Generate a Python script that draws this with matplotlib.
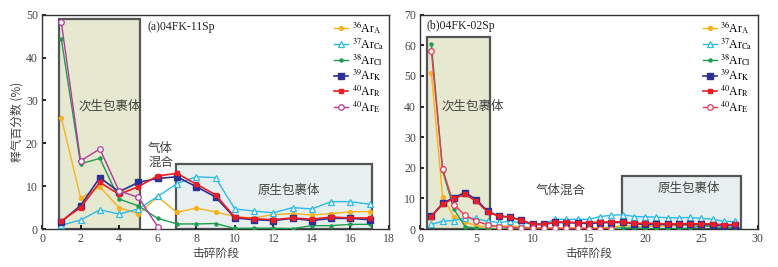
import matplotlib
matplotlib.use("Agg")
import matplotlib.pyplot as plt
from matplotlib.patches import Rectangle

plt.rcParams['font.family'] = ['Liberation Serif', 'Noto Sans CJK SC', 'DejaVu Sans']
plt.rcParams['mathtext.fontset'] = 'stix'

# ---- panel (a) 04FK-11Sp ----
steps_a = list(range(1, 18))
arA_a = [26.0, 7.3, 9.8, 5.0, 3.6, 7.5, 3.9, 4.9, 4.0, 2.9, 2.6, 3.4, 3.6, 3.3, 3.6, 4.0, 4.1]
arCa_a = [0.9, 2.1, 4.5, 3.5, 4.7, 7.6, 10.6, 12.2, 12.0, 4.7, 4.2, 3.8, 5.0, 4.7, 6.4, 6.4, 5.8]
arCl_a = [44.4, 15.2, 16.5, 7.0, 5.4, 2.5, 1.2, 1.2, 1.3, 0.15, 0.2, 0.2, 0.1, 0.8, 0.8, 1.1, 1.1]
arK_a = [1.7, 5.5, 12.0, 8.7, 10.9, 11.8, 12.2, 9.9, 7.5, 2.6, 2.2, 2.0, 2.5, 2.0, 2.5, 2.5, 2.2]
arR_a = [1.9, 5.0, 10.9, 8.1, 9.9, 12.4, 13.0, 10.5, 8.0, 2.8, 2.4, 2.2, 2.6, 2.3, 2.8, 2.6, 2.6]
steps_e_a = list(range(1, 7))
arE_a = [48.3, 15.9, 18.7, 8.9, 7.4, 0.6]

# ---- panel (b) 04FK-02Sp ----
steps_b = list(range(1, 29))
arA_b = [51.0, 10.5, 4.0, 2.2, 1.1, 0.5, 1.0, 1.0, 0.8, 0.5, 0.4, 0.4, 0.4, 0.4, 0.4,
         0.5, 0.7, 1.2, 1.0, 0.8, 1.0, 1.0, 1.2, 1.3, 1.4, 1.5, 1.2, 1.5]
arCa_b = [1.5, 2.6, 2.8, 3.6, 3.5, 2.5, 2.2, 2.5, 2.1, 1.6, 1.8, 3.2, 3.2, 3.2, 3.2,
          4.1, 4.5, 4.7, 4.1, 4.0, 3.9, 3.7, 3.7, 3.8, 3.5, 3.2, 2.5, 2.5]
arCl_b = [60.5, 19.0, 6.5, 0.8, 0.3, 0.05, 0.1, 0.1, 0.1, 0.1, 0.1, 0.1, 0.1, 0.1, 0.1,
          0.1, 0.3, 0.4, 0.4, 0.2, 0.05, 0.05, 0.05, 0.4, 1.0, 0.9, 0.3, 0.6]
arK_b = [4.2, 8.4, 10.3, 11.9, 9.6, 5.8, 4.3, 3.9, 2.9, 1.5, 1.5, 2.2, 2.1, 2.0, 1.8,
         2.1, 2.1, 2.2, 1.8, 1.5, 1.5, 1.5, 1.5, 1.5, 1.5, 1.4, 1.1, 1.2]
arR_b = [4.1, 8.1, 10.0, 11.3, 9.1, 5.6, 4.2, 3.9, 2.9, 1.6, 1.6, 2.3, 2.3, 2.1, 2.1,
         2.3, 2.3, 2.4, 1.9, 1.9, 1.8, 1.7, 1.7, 1.8, 1.7, 1.7, 1.4, 1.5]
steps_e_b = list(range(1, 18))
arE_b = [58.0, 19.6, 7.9, 4.5, 2.6, 1.4, 0.8, 0.5, 0.4, 0.3, 0.2, 0.2, 0.2, 0.2, 0.1, 0.1, 0.1]

labels = [r'$^{36}$Ar$_{\mathrm{A}}$', r'$^{37}$Ar$_{\mathrm{Ca}}$', r'$^{38}$Ar$_{\mathrm{Cl}}$',
          r'$^{39}$Ar$_{\mathrm{K}}$', r'$^{40}$Ar$_{\mathrm{R}}$', r'$^{40}$Ar$_{\mathrm{E}}$']

c_A, c_Ca, c_Cl, c_K, c_R = '#f7b21e', '#2bbbe9', '#1f9c4f', '#2c3192', '#ec1c24'

fig = plt.figure(figsize=(7.78, 2.67), dpi=100)
axa = fig.add_axes([0.054, 0.142, 0.446, 0.803])
axb = fig.add_axes([0.540, 0.142, 0.434, 0.803])

CJK = ['Noto Sans CJK SC', 'DejaVu Sans']
grey = '#444444'


def draw(ax, x, a, ca, cl, k, r, xe, e, e_color):
    ax.plot(x, a, color=c_A, marker='o', ms=2.8, lw=1.0, label=labels[0], zorder=3)
    ax.plot(x, ca, color=c_Ca, marker='^', ms=4, mfc='white', mew=0.9, lw=1.0, label=labels[1], zorder=3)
    ax.plot(x, cl, color=c_Cl, marker='o', ms=2.2, lw=1.0, label=labels[2], zorder=3)
    ax.plot(x, k, color=c_K, marker='s', ms=4, lw=1.2, label=labels[3], zorder=3)
    ax.plot(x, r, color=c_R, marker='s', ms=3, lw=1.2, label=labels[4], zorder=4)
    ax.plot(xe, e, color=e_color, marker='o', ms=4, mfc='white', mew=0.9, lw=1.0, label=labels[5], zorder=4)
    ax.legend(loc='upper right', frameon=False, fontsize=8.5, handlelength=1.2,
              labelspacing=0.0, borderaxespad=0.1, handletextpad=0.3, borderpad=0.3)
    ax.tick_params(direction='in', length=3, width=1.2, labelsize=8.5, colors='black',
                   labelcolor=grey, pad=3)
    for s in ax.spines.values():
        s.set_color('#333333')
        s.set_linewidth(1.0)
    ax.set_xlabel('击碎阶段', family=CJK, fontsize=8.5, color=grey, labelpad=1)


draw(axa, steps_a, arA_a, arCa_a, arCl_a, arK_a, arR_a, steps_e_a, arE_a, '#b2399e')
axa.set_xlim(0, 18)
axa.set_ylim(0, 50)
axa.set_xticks(range(0, 19, 2))
axa.set_yticks(range(0, 51, 10))
axa.add_patch(Rectangle((0.87, 0), 5.08 - 0.87, 49.1, fc='#e6e9cf', ec='#555555', lw=1.6, zorder=1))
axa.add_patch(Rectangle((6.93, 0), 17.13 - 6.93, 15.1, fc='#e7efef', ec='#555555', lw=1.6, zorder=1))
axa.text(3.5, 28.6, '次生包裹体', family=CJK, fontsize=9, color=grey, ha='center', va='center')
axa.text(6.15, 17.2, '气体\n混合', family=CJK, fontsize=9, color=grey, ha='center', va='center',
         linespacing=1.0)
axa.text(12.8, 9.0, '原生包裹体', family=CJK, fontsize=9, color=grey, ha='center', va='center')
axa.text(5.48, 47.2, '(a)04FK-11Sp', fontsize=8.5, color='#222222', ha='left', va='center')
axa.set_ylabel('释气百分数 (%)', family=CJK, fontsize=8.5, color=grey, labelpad=2)

draw(axb, steps_b, arA_b, arCa_b, arCl_b, arK_b, arR_b, steps_e_b, arE_b, '#e8385a')
axb.set_xlim(0, 30)
axb.set_ylim(0, 70)
axb.set_xticks(range(0, 31, 5))
axb.set_yticks(range(0, 71, 10))
axb.add_patch(Rectangle((0.6, 0), 6.24 - 0.6, 62.8, fc='#e6e9cf', ec='#555555', lw=1.6, zorder=1))
axb.add_patch(Rectangle((17.97, 0), 28.5 - 17.97, 17.2, fc='#e7efef', ec='#555555', lw=1.6, zorder=1))
axb.text(4.7, 40.2, '次生包裹体', family=CJK, fontsize=9, color=grey, ha='center', va='center')
axb.text(12.5, 12.8, '气体混合', family=CJK, fontsize=9, color=grey, ha='center', va='center')
axb.text(23.9, 13.2, '原生包裹体', family=CJK, fontsize=9, color=grey, ha='center', va='center')
axb.text(0.53, 66.3, '(b)04FK-02Sp', fontsize=8.5, color='#222222', ha='left', va='center')

fig.savefig('out.png', dpi=100)
